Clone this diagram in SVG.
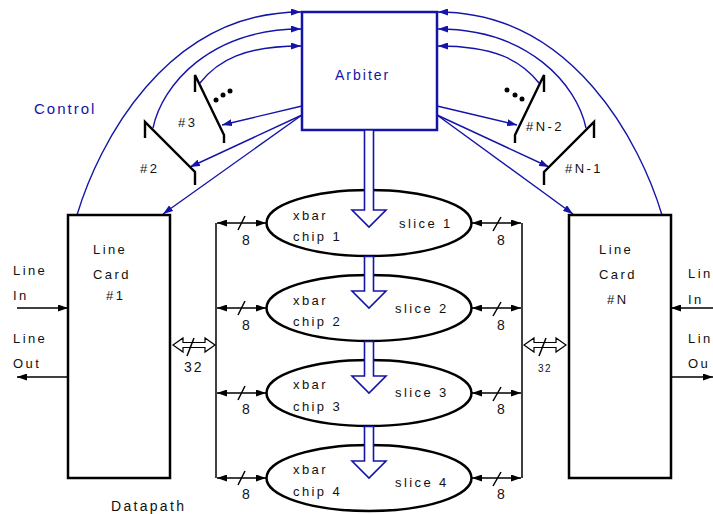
<svg xmlns="http://www.w3.org/2000/svg" width="713" height="514" viewBox="0 0 713 514">
<defs>
<style>
text{font-family:"Liberation Sans",Arial,sans-serif;font-size:13px;letter-spacing:2.4px;fill:#111}
.bt{fill:#1414a8}
.n8{font-size:14px;letter-spacing:0}
.bl{fill:none;stroke:#1414a8;stroke-width:1.4}
.bk{fill:none;stroke:#000;stroke-width:1.5}
.box{fill:#fff;stroke:#000;stroke-width:2.5}
.mux{fill:none;stroke:#000;stroke-width:2.4}
.hol{fill:#fff;stroke:#1414a8;stroke-width:1.6}
.hk{fill:#fff;stroke:#000;stroke-width:1.2}
</style>
<marker id="ab" viewBox="0 0 10 7" refX="10" refY="3.5" markerWidth="10" markerHeight="7" orient="auto" markerUnits="userSpaceOnUse"><path d="M0,0 L10,3.5 L0,7 z" fill="#1414a8"/></marker>
<marker id="ak" viewBox="0 0 10 7" refX="10" refY="3.5" markerWidth="10" markerHeight="7" orient="auto-start-reverse" markerUnits="userSpaceOnUse"><path d="M0,0 L10,3.5 L0,7 z" fill="#000"/></marker>
</defs>

<g id="connectors">
<path class="bl" d="M77,215 C98,145 165,12 301,12" marker-end="url(#ab)"/>
<path class="bl" d="M153,128 C162,85 210,29 301,29" marker-end="url(#ab)"/>
<path class="bl" d="M200,83 C218,60 245,46 301,46" marker-end="url(#ab)"/>
<path class="bl" d="M662,215 C641,145 574,12 438,12" marker-end="url(#ab)"/>
<path class="bl" d="M586,128 C577,85 529,29 438,29" marker-end="url(#ab)"/>
<path class="bl" d="M539,83 C521,60 494,46 438,46" marker-end="url(#ab)"/>
<path class="bl" d="M302,106 L222,125" marker-end="url(#ab)"/>
<path class="bl" d="M302,115 L190,167" marker-end="url(#ab)"/>
<path class="bl" d="M302,115 L163,214" marker-end="url(#ab)"/>
<path class="bl" d="M437,106 L517,125" marker-end="url(#ab)"/>
<path class="bl" d="M437,115 L549,167" marker-end="url(#ab)"/>
<path class="bl" d="M437,115 L573,214" marker-end="url(#ab)"/>
<path class="bk" d="M216,223 L216,478 M522,223 L522,478"/>
<g id="bus-arrows">
<path class="bk" d="M217,223 L266,223" marker-start="url(#ak)" marker-end="url(#ak)"/>
<path class="bk" d="M217,308 L266,308" marker-start="url(#ak)" marker-end="url(#ak)"/>
<path class="bk" d="M217,393 L266,393" marker-start="url(#ak)" marker-end="url(#ak)"/>
<path class="bk" d="M217,478 L266,478" marker-start="url(#ak)" marker-end="url(#ak)"/>
<path class="bk" d="M472,223 L521,223" marker-start="url(#ak)" marker-end="url(#ak)"/>
<path class="bk" d="M472,308 L521,308" marker-start="url(#ak)" marker-end="url(#ak)"/>
<path class="bk" d="M472,393 L521,393" marker-start="url(#ak)" marker-end="url(#ak)"/>
<path class="bk" d="M472,478 L521,478" marker-start="url(#ak)" marker-end="url(#ak)"/>
<path class="bk" d="M238,230 L245,216 M238,315 L245,301 M238,400 L245,386 M238,485 L245,471"/>
<path class="bk" d="M493,231 L501,217 M493,316 L501,302 M493,401 L501,387 M493,486 L501,472"/>
</g>
<path class="bk" d="M17,308 L68,308" marker-end="url(#ak)"/>
<path class="bk" d="M68,377 L17,377" marker-end="url(#ak)"/>
<path class="bk" d="M713,308 L671,308" marker-end="url(#ak)"/>
<path class="bk" d="M671,377 L713,377" marker-end="url(#ak)"/>
<path class="hk" d="M173,345 L183,338 L183,342.5 L205,342.5 L205,338 L215,345 L205,352 L205,347.5 L183,347.5 L183,352 z"/>
<path class="bk" d="M187,356 L194,338"/>
<path class="hk" d="M524,345 L534,338 L534,342.5 L556,342.5 L556,338 L566,345 L556,352 L556,347.5 L534,347.5 L534,352 z"/>
<path class="bk" d="M539,356 L546,338"/>
</g>

<g id="arbiter">
<rect x="302" y="12" width="135" height="118" fill="#fff" stroke="#1414a8" stroke-width="2.5"/>
<text class="bt" x="335" y="80" style="font-size:14px;letter-spacing:2px">Arbiter</text>
</g>

<g id="line-card-1">
<rect class="box" x="68" y="215" width="102" height="263"/>
<text x="93" y="254">Line</text>
<text x="93" y="279">Card</text>
<text x="106" y="300">#1</text>
</g>

<g id="line-card-N">
<rect class="box" x="569" y="215" width="102" height="263"/>
<text x="599" y="254">Line</text>
<text x="599" y="279">Card</text>
<text x="607" y="304">#N</text>
</g>

<g id="chip1">
<ellipse class="box" cx="369" cy="223" rx="102.5" ry="33"/>
<text x="293" y="220">xbar</text>
<text x="293" y="241">chip 1</text>
<text x="399" y="228">slice 1</text>
</g>
<g id="chip2">
<ellipse class="box" cx="369" cy="308" rx="102.5" ry="33"/>
<text x="293" y="305">xbar</text>
<text x="293" y="326">chip 2</text>
<text x="395" y="313">slice 2</text>
</g>
<g id="chip3">
<ellipse class="box" cx="369" cy="393" rx="102.5" ry="33"/>
<text x="293" y="389">xbar</text>
<text x="293" y="411">chip 3</text>
<text x="395" y="397">slice 3</text>
</g>
<g id="chip4">
<ellipse class="box" cx="369" cy="478" rx="102.5" ry="33"/>
<text x="293" y="474">xbar</text>
<text x="293" y="496">chip 4</text>
<text x="395" y="487">slice 4</text>
</g>

<g id="config-arrows">
<path class="hol" d="M364.5,130 L373.5,130 L373.5,210 L386,210 L369,227 L352,210 L364.5,210 z"/>
<path class="hol" d="M364.5,256.5 L373.5,256.5 L373.5,291 L386,291 L369,308 L352,291 L364.5,291 z"/>
<path class="hol" d="M364.5,341.5 L373.5,341.5 L373.5,376 L386,376 L369,393 L352,376 L364.5,376 z"/>
<path class="hol" d="M364.5,426.5 L373.5,426.5 L373.5,461 L386,461 L369,478 L352,461 L364.5,461 z"/>
</g>

<g id="mux2"><path class="mux" d="M145,138 L145,122 L195,172 L195,185"/><text x="140" y="173">#2</text></g>
<g id="mux3"><path class="mux" d="M195,92 L195,75 L224,135 L224,143"/><text x="178" y="127">#3</text></g>
<g id="dots-left"><circle cx="216" cy="100" r="2.5"/><circle cx="223" cy="95" r="2.5"/><circle cx="230" cy="91" r="2.5"/></g>
<g id="muxN2"><path class="mux" d="M544,92 L544,75 L515,135 L515,143"/><text x="526" y="131">#N-2</text></g>
<g id="muxN1"><path class="mux" d="M594,138 L594,122 L544,172 L544,185"/><text x="565" y="173">#N-1</text></g>
<g id="dots-right"><circle cx="507" cy="90" r="2.5"/><circle cx="515" cy="95" r="2.5"/><circle cx="522" cy="99" r="2.5"/></g>

<g id="labels">
<text class="bt" x="34" y="114" style="font-size:15px;letter-spacing:2px">Control</text>
<text x="13" y="275">Line</text>
<text x="13" y="300">In</text>
<text x="13" y="343">Line</text>
<text x="13" y="368">Out</text>
<text x="688" y="278">Lin</text>
<text x="688" y="304">In</text>
<text x="688" y="343">Lin</text>
<text x="688" y="368">Ou</text>
<text x="184" y="372" style="font-size:14px;letter-spacing:2px">32</text>
<text x="538" y="372" style="font-size:10px;letter-spacing:1.5px">32</text>
<text x="111" y="511" style="font-size:14px;letter-spacing:2.3px">Datapath</text>
<text class="n8" x="242" y="245">8</text>
<text class="n8" x="242" y="330">8</text>
<text class="n8" x="242" y="414">8</text>
<text class="n8" x="242" y="499">8</text>
<text class="n8" x="497" y="245">8</text>
<text class="n8" x="497" y="330">8</text>
<text class="n8" x="497" y="414">8</text>
<text class="n8" x="497" y="499">8</text>
</g>
</svg>
